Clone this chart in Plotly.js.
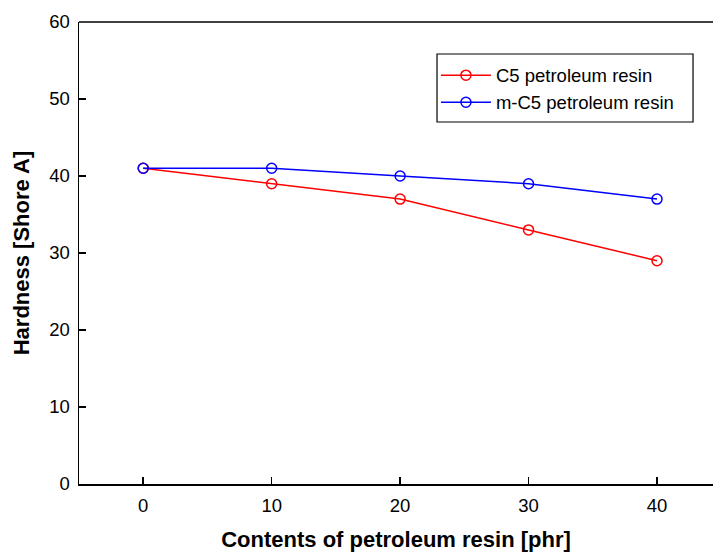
<!DOCTYPE html>
<html>
<head>
<meta charset="utf-8">
<script src="https://cdn.plot.ly/plotly-3.0.1.min.js"></script>
<style>html,body{margin:0;padding:0;background:#fff;}#chart{width:713px;height:552px;}</style>
</head>
<body>
<div id="chart"></div>
<script>
const contents = [0, 10, 20, 30, 40];
const c5Hardness = [41, 39, 37, 33, 29];
const mc5Hardness = [41, 41, 40, 39, 37];
const seriesNames = ["C5 petroleum resin", "m-C5 petroleum resin"];
const xTicks = [0, 10, 20, 30, 40];
const yTicks = [0, 10, 20, 30, 40, 50, 60];

const mk = (color) => ({symbol: "circle-open", size: 10, color: color, line: {width: 1.5, color: color}});
const traces = [
  {x: contents, y: c5Hardness, name: seriesNames[0], mode: "lines+markers", line: {color: "#ff0000", width: 1.5}, marker: mk("#ff0000")},
  {x: contents, y: mc5Hardness, name: seriesNames[1], mode: "lines+markers", line: {color: "#0000ff", width: 1.5}, marker: mk("#0000ff")}
];
const tickFont = {family: "Liberation Sans, Arial, sans-serif", size: 18.5, color: "#000"};
const layout = {
  width: 713, height: 552,
  margin: {l: 79, r: 0, t: 22, b: 68},
  paper_bgcolor: "#fff", plot_bgcolor: "#fff",
  font: {family: "Liberation Sans, Arial, sans-serif", size: 18.5, color: "#000"},
  showlegend: true,
  legend: {x: 0.563, y: 0.925, xanchor: "left", yanchor: "top", bgcolor: "rgba(0,0,0,0)", borderwidth: 0,
           font: {size: 18.5}, tracegroupgap: 0, itemwidth: 50},
  xaxis: {range: [-5, 44.36], tickvals: xTicks, ticks: "inside", ticklen: 7, tickcolor: "#000", tickwidth: 1.5,
          tickfont: tickFont,
          showline: true, linecolor: "#000", linewidth: 1.5, showgrid: false, zeroline: false,
          ticklabelstandoff: 4,
          title: {text: "<b>Contents of petroleum resin [phr]</b>", font: {size: 22}, standoff: 17}},
  yaxis: {range: [0, 60], tickvals: yTicks, ticks: "inside", ticklen: 7, tickcolor: "#000", tickwidth: 1.5,
          tickfont: tickFont,
          showline: true, linecolor: "#000", linewidth: 1.5, showgrid: false, zeroline: false,
          ticklabelstandoff: 4,
          title: {text: "<b>Hardness [Shore A]</b>", font: {size: 22}, standoff: 13}},
  shapes: [
    {type: "line", xref: "paper", yref: "paper", x0: 0, x1: 1, y0: 1, y1: 1, line: {color: "#000", width: 1.5}},
    {type: "rect", xref: "paper", yref: "paper", x0: 0.5647, x1: 0.9685, y0: 0.7835, y1: 0.9307, layer: "above",
     fillcolor: "#fff", line: {color: "#000", width: 1.2}}
  ]
};
Plotly.newPlot("chart", traces, layout, {displayModeBar: false, staticPlot: true});
</script>
</body>
</html>
